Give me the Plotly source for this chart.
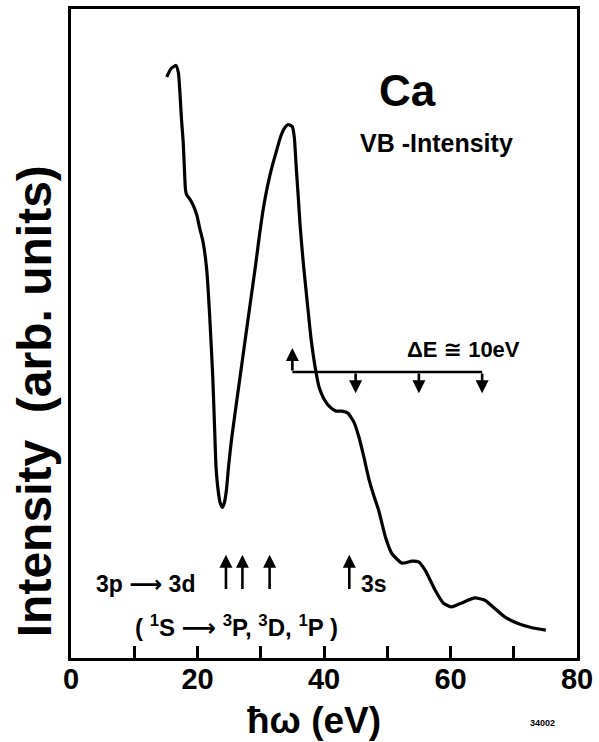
import plotly.graph_objects as go

# Photon energy (eV) and VB intensity (arb. units)
energy = [15.13, 15.80, 16.59, 16.98, 17.22, 17.45, 17.74, 17.92, 18.11, 18.32,
          18.79, 19.31, 19.89, 20.36, 20.88, 21.46, 21.93, 22.41, 22.72, 22.92,
          23.27, 23.58, 23.93, 24.25, 24.56, 24.92, 25.35, 26.02, 26.81, 27.59,
          28.38, 29.17, 29.80, 30.42, 31.10, 31.76, 32.42, 33.10, 33.73, 34.36,
          34.98, 35.30, 35.61, 35.93, 36.24, 36.71, 37.34, 37.97, 38.71, 39.23,
          40.02, 40.96, 41.90, 42.85, 43.79, 44.73, 45.52, 46.30, 47.09, 47.88,
          48.66, 49.72, 50.75, 52.33, 53.90, 54.95, 56.01, 57.58, 58.88, 60.19,
          61.76, 63.87, 65.44, 67.01, 68.58, 70.68, 72.77, 75.08]
intensity = [89.52, 90.80, 91.30, 90.18, 87.12, 83.28, 79.45, 75.61, 72.09, 71.32,
             70.71, 69.79, 68.25, 66.15, 64.11, 59.82, 52.61, 43.40, 34.97, 29.60,
             25.77, 23.93, 23.21, 23.93, 25.77, 29.60, 33.44, 38.34, 43.87, 49.39,
             54.91, 60.43, 65.18, 69.33, 72.85, 75.61, 77.91, 80.21, 81.60, 82.20,
             81.90, 80.30, 75.61, 71.01, 66.41, 61.04, 54.91, 49.08, 44.17, 41.72,
             39.88, 38.65, 38.04, 38.04, 37.73, 36.35, 34.05, 30.98, 27.61, 25.00,
             22.70, 18.60, 16.06, 14.62, 14.92, 14.80, 13.50, 10.43, 8.44, 7.87,
             8.48, 9.25, 8.90, 7.62, 6.33, 5.32, 4.71, 4.29]

# 3p -> 3d transition markers and 3s threshold (eV)
transitions_3p3d = [24.5, 27.1, 31.4]
threshold_3s = [44.0]
marker_tail, marker_head = 10.4, 15.9

# Delta E = 10 eV ladder
dE_start = 35.0
dE_steps = [45.0, 55.0, 65.0]
dE_level, dE_up, dE_down = 44.06, 47.75, 40.8

x_tickvals = [0, 10, 20, 30, 40, 50, 60, 70, 80]
x_ticktext = ["<b>0</b>", "", "<b>20</b>", "", "<b>40</b>", "", "<b>60</b>", "", "<b>80</b>"]

FONT = "Liberation Sans, Arial, DejaVu Sans, sans-serif"
BLACK = "#000000"

fig = go.Figure()
fig.add_trace(go.Scatter(x=energy, y=intensity, mode="lines",
                         line=dict(color=BLACK, width=3.2, shape="spline", smoothing=0.5),
                         showlegend=False, hoverinfo="skip"))

annotations = []
def arrow(x, y, ax, ay):
    annotations.append(dict(x=x, y=y, ax=ax, ay=ay, xref="x", yref="y", axref="x", ayref="y",
                            showarrow=True, arrowhead=2, arrowsize=1.0, arrowwidth=2.6,
                            arrowcolor=BLACK, text=""))

for e in transitions_3p3d + threshold_3s:
    arrow(e, marker_head, e, marker_tail)

arrow(dE_start, dE_up, dE_start, dE_level)
for e in dE_steps:
    arrow(e, dE_down, e, dE_level)

shapes = [dict(type="line", xref="x", yref="y", x0=dE_start, x1=dE_steps[-1],
               y0=dE_level, y1=dE_level, line=dict(color=BLACK, width=2.6))]

def text(t, x, y, size, ref="x", bold=True, **kw):
    s = f"<b>{t}</b>" if bold else t
    d = dict(text=s, x=x, y=y, xref="x" if ref == "x" else "paper",
             yref="y" if ref == "x" else "paper", showarrow=False,
             xanchor="center", yanchor="middle",
             font=dict(family=FONT, size=size, color=BLACK))
    d.update(kw)
    annotations.append(d)

text("Ca", 53.2, 87.4, 44)
text("VB -Intensity", 57.8, 79.4, 25)
text("ΔE ≅ 10eV", 62.0, 47.5, 22)
text("3p ⟶ 3d", 11.7, 11.35, 23)
text("3s", 47.9, 11.35, 23)
text("( <sup>1</sup>S ⟶ <sup>3</sup>P, <sup>3</sup>D, <sup>1</sup>P )", 26.2, 4.9, 24)
text("Intensity  (arb. units)", -0.0707, 0.396, 48, ref="paper", textangle=-90)
text("ħω (eV)", 0.481, -0.097, 37, ref="paper")
text("34002", 0.931, -0.1, 9, ref="paper")

fig.update_layout(
    width=599, height=742,
    margin=dict(l=71, r=19, t=6, b=84),
    paper_bgcolor="white", plot_bgcolor="white",
    annotations=annotations, shapes=shapes,
    xaxis=dict(range=[0, 80], tickvals=x_tickvals, ticktext=x_ticktext,
               ticks="inside", ticklen=12, tickwidth=2.5, tickcolor=BLACK,
               ticklabelstandoff=-7,
               showline=True, linecolor=BLACK, linewidth=3, mirror=True,
               showgrid=False, zeroline=False,
               tickfont=dict(family=FONT, size=29, color=BLACK)),
    yaxis=dict(range=[0, 100], showticklabels=False, ticks="",
               showline=True, linecolor=BLACK, linewidth=3, mirror=True,
               showgrid=False, zeroline=False),
)

fig.write_html("out.html", config={"displayModeBar": False},
               post_script="document.body.style.margin='0';")
